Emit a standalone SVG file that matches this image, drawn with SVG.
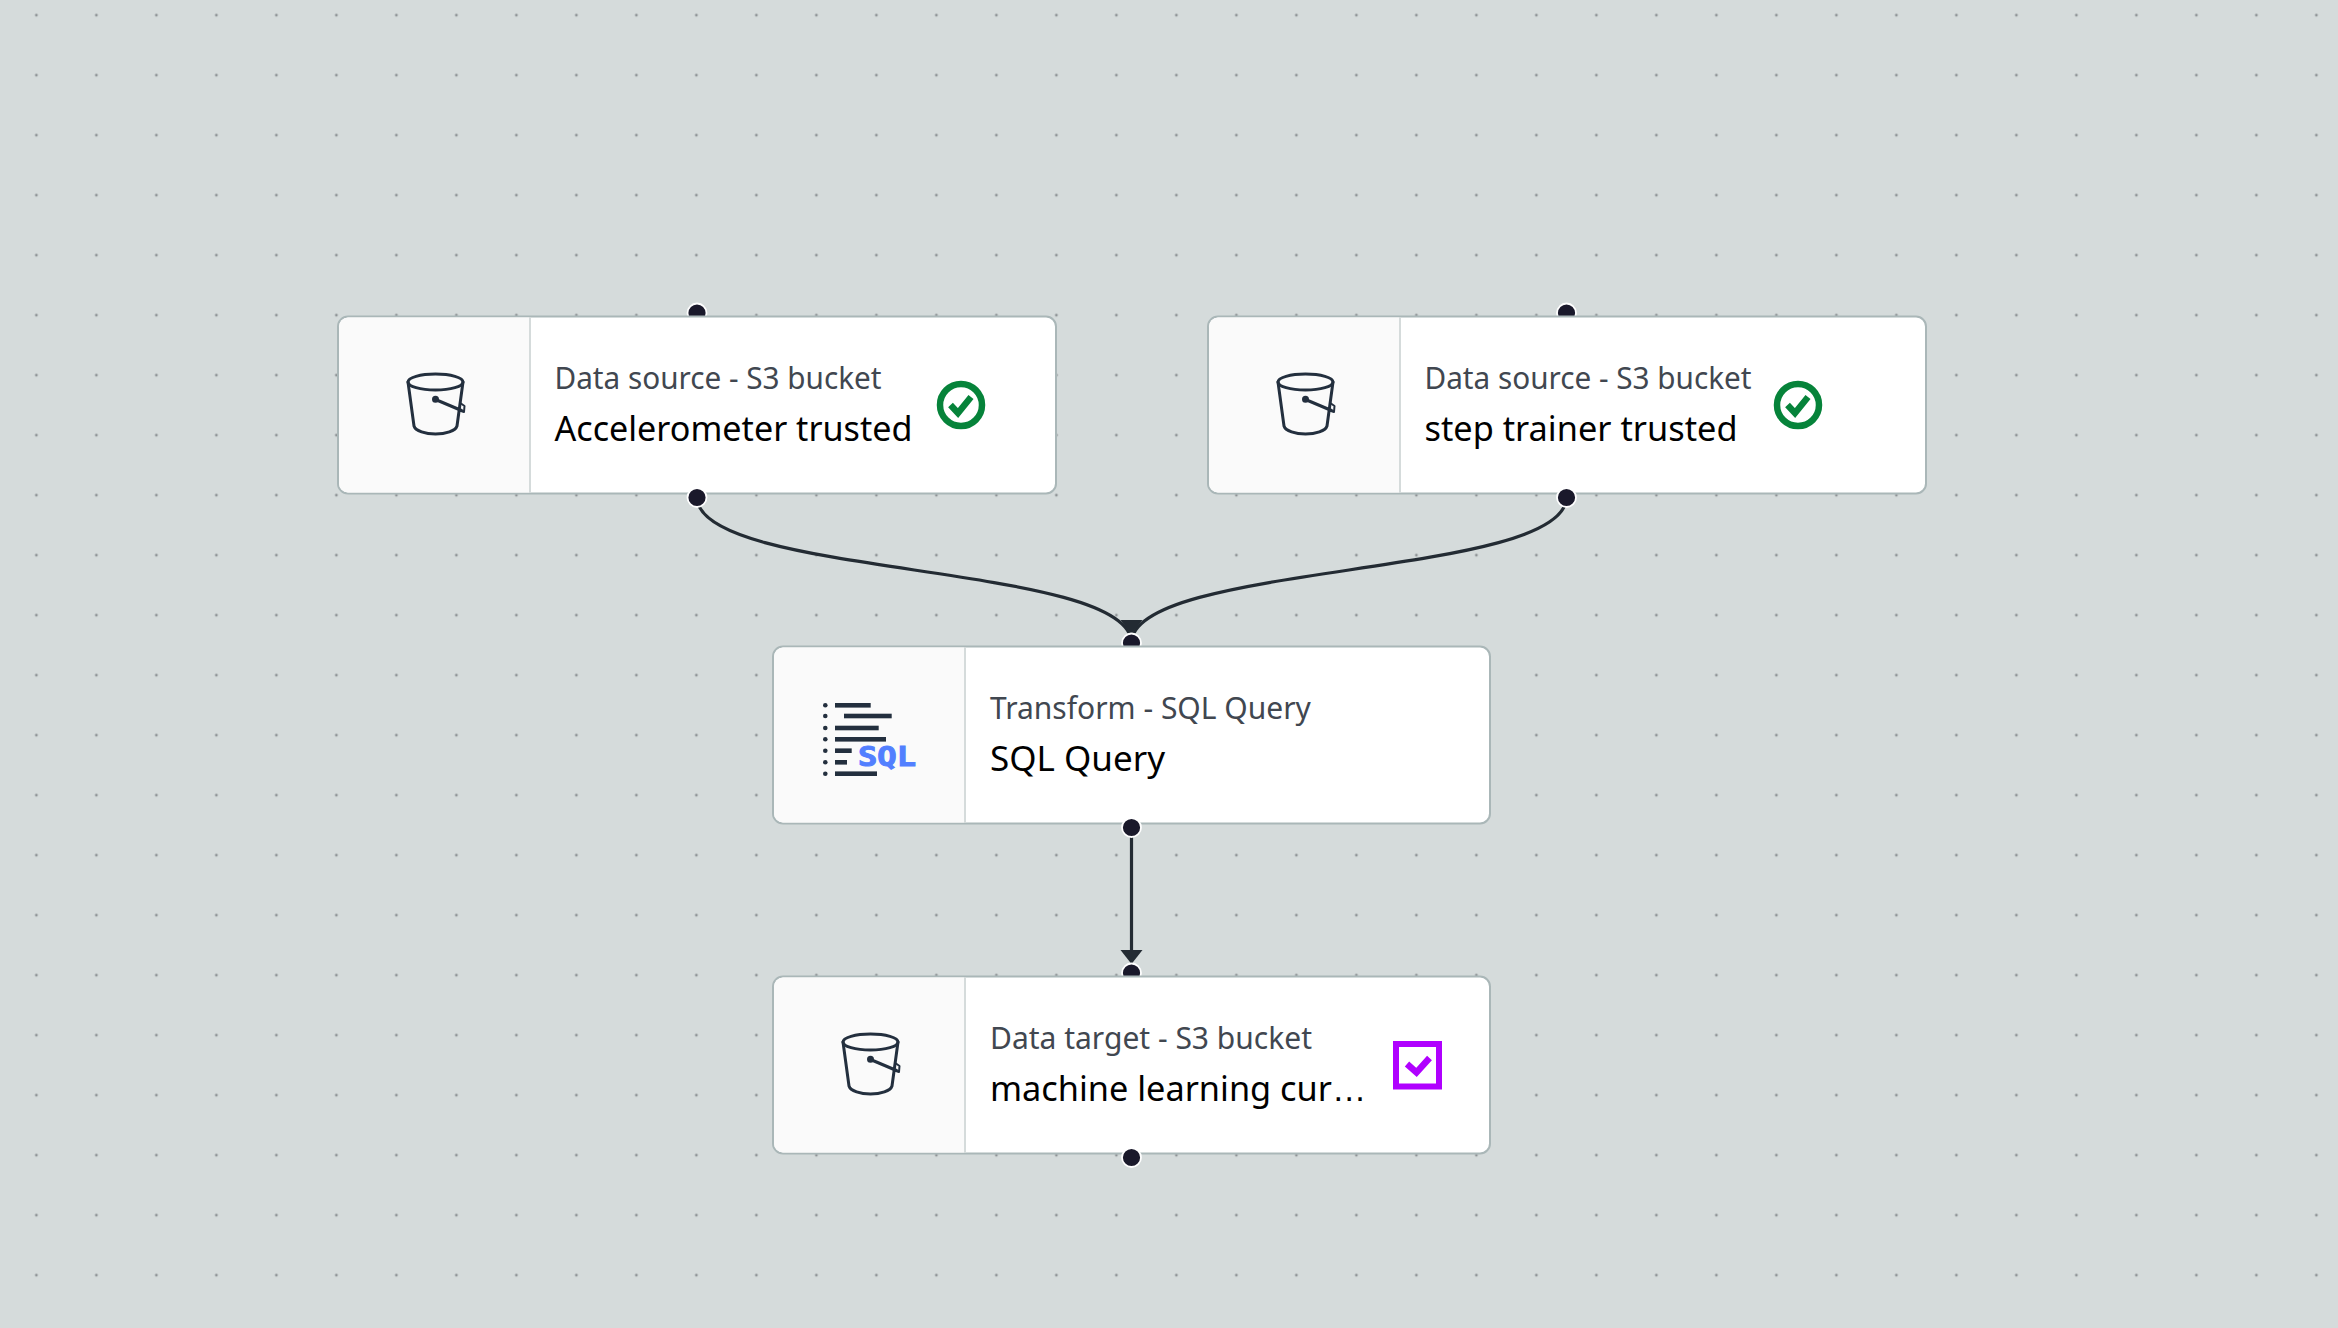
<svg xmlns="http://www.w3.org/2000/svg" width="2338" height="1328" viewBox="0 0 2338 1328">
<style>
.card{fill:#fff;stroke:#aab7b8;stroke-width:2}
.panel{fill:#fafafa}
.div{stroke:#d5dbdb;stroke-width:2}
.sub{font-family:"Noto Sans","Open Sans",sans-serif;font-size:30px;fill:#414750}
.name{font-family:"Noto Sans","Open Sans",sans-serif;font-size:35px;fill:#000}
.h{fill:#1a192b;stroke:#fff;stroke-width:1.8}
.conn{fill:none;stroke:#232b33;stroke-width:3.2}
.ic{fill:none;stroke:#232f3e;stroke-width:3;stroke-linecap:round;stroke-linejoin:round}
.bar{fill:#232f3e}
.ok{fill:none;stroke:#06833a}
.tg{fill:none;stroke:#b000ff}
</style>
<defs>
<pattern id="grid" x="6.4" y="15.2" width="60" height="60" patternUnits="userSpaceOnUse">
<circle cx="30" cy="0" r="1.4" fill="#8e9396"/><circle cx="30" cy="60" r="1.4" fill="#8e9396"/>
</pattern>
<g id="bucket">
<ellipse cx="0" cy="0" rx="27.5" ry="8"/>
<path d="M-27.5 0L-21.5 44C-20 49-10 52 0 52C10 52 20 49 21.5 44L27.5 0"/>
<path d="M0 17.5L26 28.5"/>
<circle cx="0" cy="17.3" r="2" fill="#232f3e"/>
<path d="M25.5 21.5L29 24L28.5 30L24 28.5" stroke-width="2"/>
</g>
<g id="okmark">
<circle cx="0" cy="0" r="21" stroke-width="6.5"/>
<path d="M-10.5 0L-3 8L10 -8" stroke-width="6.5"/>
</g>
</defs>
<rect width="2338" height="1328" fill="#d5dbdb"/>
<rect width="2338" height="1328" fill="url(#grid)"/>

<g id="connectors">
<path class="conn" d="M697 497C697 578 1131.5 562 1131.5 643"/>
<path class="conn" d="M1566.5 497C1566.5 578 1131.5 562 1131.5 643"/>
<path class="conn" d="M1131.5 827V952"/>
<path d="M1120.5 620H1142.5L1131.5 634Z" fill="#232b33"/>
<path d="M1120.5 950H1142.5L1131.5 964Z" fill="#232b33"/>
</g>

<g id="node-accelerometer">
<circle class="h" cx="697" cy="313" r="9.5"/>
<rect class="card" x="338" y="316.5" width="718" height="177" rx="10"/>
<path class="panel" d="M348 317.5H529V492.5H348A9 9 0 0 1 339 483.5V326.5A9 9 0 0 1 348 317.5Z"/>
<line class="div" x1="530" y1="317.5" x2="530" y2="492.5"/>
<use href="#bucket" x="435.5" y="382" class="ic"/>
<text class="sub" x="554.5" y="389" textLength="327" lengthAdjust="spacingAndGlyphs">Data source - S3 bucket</text>
<text class="name" x="554.5" y="441" textLength="358" lengthAdjust="spacingAndGlyphs">Accelerometer trusted</text>
<use href="#okmark" x="961" y="405" class="ok"/>
<circle class="h" cx="697" cy="497.5" r="9.5"/>
</g>

<g id="node-step-trainer">
<circle class="h" cx="1566.5" cy="313" r="9.5"/>
<rect class="card" x="1208" y="316.5" width="718" height="177" rx="10"/>
<path class="panel" d="M1218 317.5H1399V492.5H1218A9 9 0 0 1 1209 483.5V326.5A9 9 0 0 1 1218 317.5Z"/>
<line class="div" x1="1400" y1="317.5" x2="1400" y2="492.5"/>
<use href="#bucket" x="1305.5" y="382" class="ic"/>
<text class="sub" x="1424.5" y="389" textLength="327" lengthAdjust="spacingAndGlyphs">Data source - S3 bucket</text>
<text class="name" x="1424.5" y="441" textLength="313" lengthAdjust="spacingAndGlyphs">step trainer trusted</text>
<use href="#okmark" x="1798" y="405" class="ok"/>
<circle class="h" cx="1566.5" cy="497.5" r="9.5"/>
</g>

<g id="node-sql-query">
<circle class="h" cx="1131.5" cy="643" r="9.5"/>
<rect class="card" x="773" y="646.5" width="717" height="177" rx="10"/>
<path class="panel" d="M783 647.5H964V822.5H783A9 9 0 0 1 774 813.5V656.5A9 9 0 0 1 783 647.5Z"/>
<line class="div" x1="965" y1="647.5" x2="965" y2="822.5"/>
<g class="bar">
<circle cx="825.3" cy="705.3" r="2.3"/><circle cx="825.3" cy="716" r="2.3"/><circle cx="825.3" cy="728" r="2.3"/><circle cx="825.3" cy="739.3" r="2.3"/><circle cx="825.3" cy="750.7" r="2.3"/><circle cx="825.3" cy="762.3" r="2.3"/><circle cx="825.3" cy="773.7" r="2.3"/>
<rect x="835" y="703" width="35.7" height="4.6"/>
<rect x="844" y="713.7" width="47.7" height="4.6"/>
<rect x="835" y="725.7" width="43.7" height="4.6"/>
<rect x="835" y="737" width="51" height="4.6"/>
<rect x="835" y="748.4" width="16.7" height="4.6"/>
<rect x="835" y="760" width="12" height="4.6"/>
<rect x="835" y="771.4" width="42" height="4.6"/>
</g>
<text x="858" y="765.5" font-family="DejaVu Sans Mono, monospace" font-weight="700" font-size="26" fill="#527fff" stroke="#527fff" stroke-width="1" textLength="58" lengthAdjust="spacingAndGlyphs">SQL</text>
<text class="sub" x="990" y="719">Transform - SQL Query</text>
<text class="name" x="990" y="771">SQL Query</text>
<circle class="h" cx="1131.5" cy="827.5" r="9.5"/>
</g>

<g id="node-target">
<circle class="h" cx="1131.5" cy="973" r="9.5"/>
<rect class="card" x="773" y="976.5" width="717" height="177" rx="10"/>
<path class="panel" d="M783 977.5H964V1152.5H783A9 9 0 0 1 774 1143.5V986.5A9 9 0 0 1 783 977.5Z"/>
<line class="div" x1="965" y1="977.5" x2="965" y2="1152.5"/>
<use href="#bucket" x="870.5" y="1042" class="ic"/>
<text class="sub" x="990" y="1049">Data target - S3 bucket</text>
<text class="name" x="990" y="1101" style="font-size:34.3px">machine learning cur<tspan font-family="'Liberation Sans',sans-serif">…</tspan></text>
<rect class="tg" x="1396" y="1044" width="43" height="42.5" stroke-width="6"/>
<path class="tg" d="M1407 1064L1416.5 1072.5L1429.5 1058" stroke-width="6.5"/>
<circle class="h" cx="1131.5" cy="1157.5" r="9.5"/>
</g>
</svg>
